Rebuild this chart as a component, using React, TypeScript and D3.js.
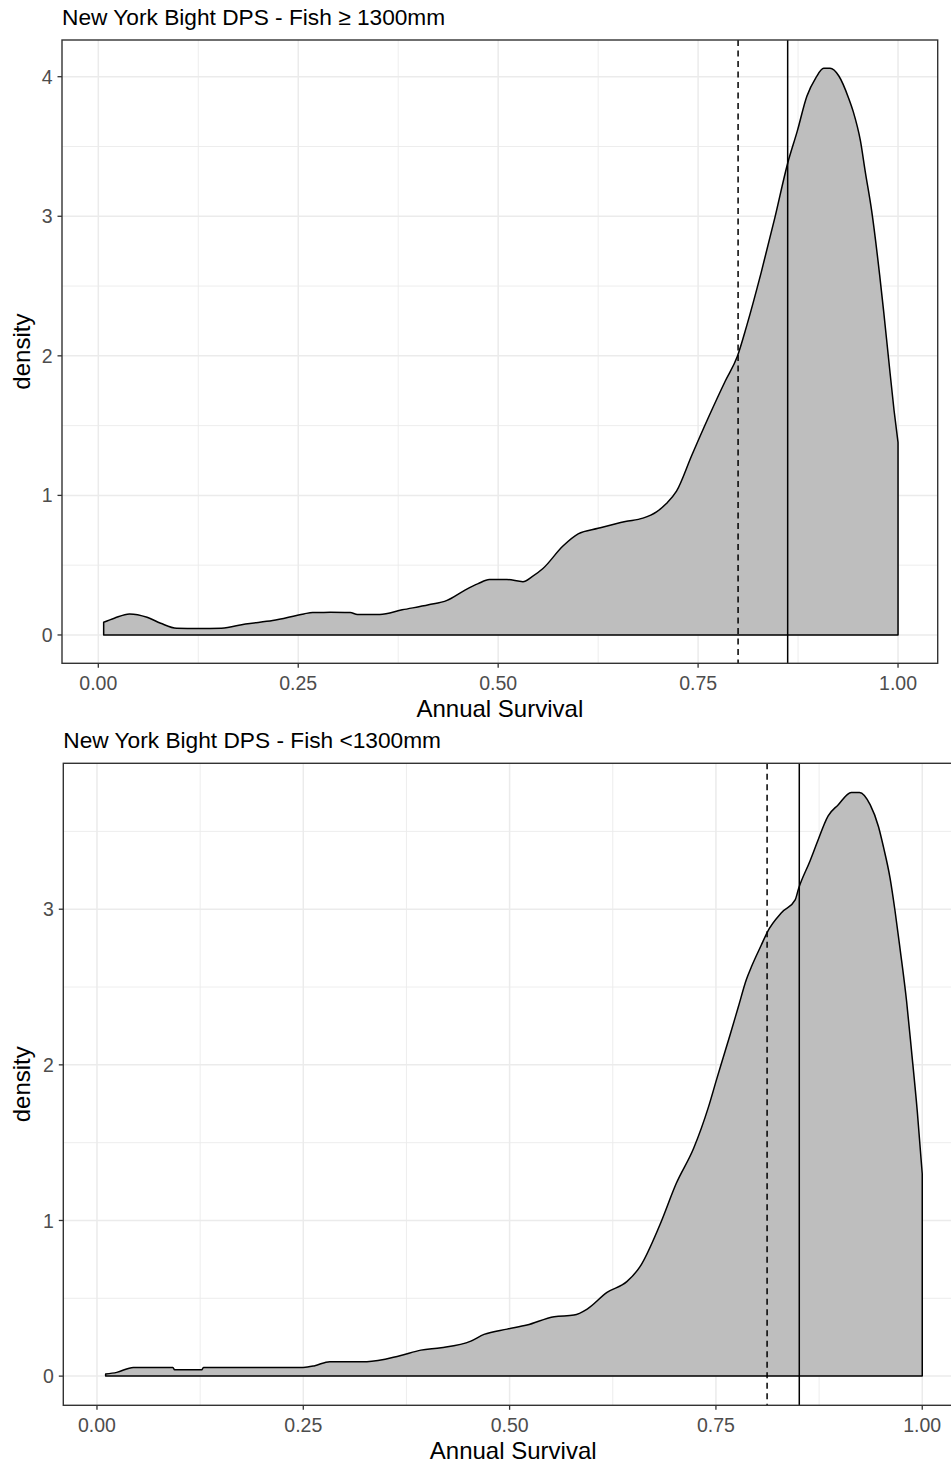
import React from "react";
import * as d3 from "d3";

// ---- Data ----
const topSurvival = [
  0.0067, 0.02, 0.039, 0.061, 0.078, 0.098, 0.125, 0.154, 0.184, 0.218, 0.257, 0.268, 0.29, 0.315,
  0.324, 0.352, 0.38, 0.413, 0.436, 0.458, 0.475, 0.489, 0.511, 0.531, 0.542, 0.556, 0.581, 0.6,
  0.625, 0.659, 0.681, 0.698, 0.71, 0.723, 0.742, 0.763, 0.784, 0.799, 0.811, 0.829, 0.846,
  0.862, 0.874, 0.886, 0.897, 0.907, 0.915, 0.926, 0.938, 0.944, 0.953, 0.959, 0.967, 0.977, 0.982,
  0.988, 0.995, 1.0,
];
const topDensity = [
  0.091, 0.12, 0.151, 0.127, 0.084, 0.048, 0.046, 0.048, 0.079, 0.103, 0.151, 0.161, 0.162, 0.161,
  0.147, 0.147, 0.18, 0.216, 0.248, 0.32, 0.368, 0.397, 0.397, 0.382, 0.416, 0.476, 0.637, 0.724,
  0.764, 0.813, 0.837, 0.882, 0.94, 1.03, 1.286, 1.56, 1.82, 1.995, 2.22, 2.6, 2.99,
  3.38, 3.61, 3.86, 3.99, 4.06, 4.06, 4.005, 3.85, 3.75, 3.54, 3.32, 3.04, 2.58, 2.32,
  1.99, 1.61, 1.38,
];

const bottomSurvival = [
  0.0105, 0.024, 0.044, 0.092, 0.094, 0.127, 0.129, 0.25, 0.264, 0.282, 0.327, 0.367, 0.3925, 0.417,
  0.453, 0.469, 0.497, 0.521, 0.554, 0.578, 0.594, 0.618, 0.642, 0.658, 0.682, 0.702, 0.723, 0.741,
  0.751, 0.759, 0.767, 0.777, 0.787, 0.793, 0.805, 0.812, 0.83, 0.846, 0.85, 0.864, 0.872, 0.886,
  0.898, 0.914, 0.924, 0.937, 0.947, 0.953, 0.961, 0.967, 0.973, 0.981, 0.987, 0.994, 1.0,
];
const bottomDensity = [
  0.013, 0.024, 0.056, 0.056, 0.041, 0.041, 0.056, 0.056, 0.067, 0.093, 0.093, 0.131, 0.167, 0.182,
  0.225, 0.268, 0.302, 0.328, 0.382, 0.392, 0.431, 0.538, 0.607, 0.703, 0.971, 1.239, 1.464, 1.73,
  1.91, 2.05, 2.19, 2.37, 2.55, 2.63, 2.77, 2.85, 2.98, 3.06, 3.13, 3.31, 3.42, 3.6,
  3.67, 3.75, 3.75, 3.67, 3.53, 3.4, 3.2, 2.99, 2.75, 2.41, 2.09, 1.7, 1.3,
];

// reference lines: [dashed, solid]
const topRefLines = [0.8, 0.862];
const bottomRefLines = [0.812, 0.851];

const xTicks = [0, 0.25, 0.5, 0.75, 1];
const xTickLabels = ["0.00", "0.25", "0.50", "0.75", "1.00"];
const topYTicks = [0, 1, 2, 3, 4];
const bottomYTicks = [0, 1, 2, 3];

const topTitle = "New York Bight DPS - Fish \u2265 1300mm";
const bottomTitle = "New York Bight DPS - Fish <1300mm";
const xTitle = "Annual Survival";
const yTitle = "density";

const FONT = "'Liberation Sans', Arial, Helvetica, sans-serif";

type PanelProps = {
  left: number;
  right: number;
  top: number;
  bottom: number;
  xDomain: [number, number];
  xs: number[];
  ds: number[];
  yTicks: number[];
  refLines: number[];
  title: string;
};

function Panel({ left, right, top, bottom, xDomain, xs, ds, yTicks, refLines, title }: PanelProps) {
  const ymax = d3.max(ds) as number;
  const x = d3.scaleLinear().domain(xDomain).range([left, right]);
  const y = d3.scaleLinear().domain([-0.05 * ymax, 1.05 * ymax]).range([bottom, top]);

  const pts = xs.map((v, i) => [v, ds[i]] as [number, number]);
  const area = d3
    .area<[number, number]>()
    .x((d) => x(d[0]))
    .y0(y(0))
    .y1((d) => y(d[1]))
    .curve(d3.curveMonotoneX);

  const [yd0, yd1] = y.domain();
  const xMinor = xTicks
    .slice(0, -1)
    .map((t, i) => (t + xTicks[i + 1]) / 2)
    .concat([1.125])
    .filter((v) => v >= xDomain[0] && v <= xDomain[1]);
  const yMinor = yTicks
    .map((t) => t + 0.5)
    .concat([-0.5])
    .filter((v) => v >= yd0 && v <= yd1);

  const gridColor = "#EBEBEB";
  const cx = (left + right) / 2;
  const cy = (top + bottom) / 2;

  return (
    <g>
      {xMinor.map((v) => (
        <line key={"xm" + v} x1={x(v)} x2={x(v)} y1={top} y2={bottom} stroke={gridColor} strokeWidth={0.9} />
      ))}
      {yMinor.map((v) => (
        <line key={"ym" + v} x1={left} x2={right} y1={y(v)} y2={y(v)} stroke={gridColor} strokeWidth={0.9} />
      ))}
      {xTicks.map((v) => (
        <line key={"xg" + v} x1={x(v)} x2={x(v)} y1={top} y2={bottom} stroke={gridColor} strokeWidth={1.5} />
      ))}
      {yTicks.map((v) => (
        <line key={"yg" + v} x1={left} x2={right} y1={y(v)} y2={y(v)} stroke={gridColor} strokeWidth={1.5} />
      ))}
      <path d={area(pts) || ""} fill="#BEBEBE" stroke="#000" strokeWidth={1.5} strokeLinejoin="round" />
      <line x1={x(refLines[0])} x2={x(refLines[0])} y1={top} y2={bottom} stroke="#000" strokeWidth={1.5} strokeDasharray="6,4.5" />
      <line x1={x(refLines[1])} x2={x(refLines[1])} y1={top} y2={bottom} stroke="#000" strokeWidth={1.5} />
      <rect x={left} y={top} width={right - left} height={bottom - top} fill="none" stroke="#333333" strokeWidth={1.4} />
      {yTicks.map((v) => (
        <g key={"yt" + v}>
          <line x1={left - 4.5} x2={left} y1={y(v)} y2={y(v)} stroke="#333333" strokeWidth={1.3} />
          <text x={left - 9.5} y={y(v)} dy="0.36em" textAnchor="end" fontSize={19.5} fill="#4D4D4D" fontFamily={FONT}>
            {String(v)}
          </text>
        </g>
      ))}
      {xTicks.map((v, i) => (
        <g key={"xt" + v}>
          <line x1={x(v)} x2={x(v)} y1={bottom} y2={bottom + 4.5} stroke="#333333" strokeWidth={1.3} />
          <text x={x(v)} y={bottom + 27} textAnchor="middle" fontSize={19.5} fill="#4D4D4D" fontFamily={FONT}>
            {xTickLabels[i]}
          </text>
        </g>
      ))}
      <text x={cx} y={bottom + 53.5} textAnchor="middle" fontSize={24} fill="#000" fontFamily={FONT}>
        {xTitle}
      </text>
      <text transform={`translate(30,${cy}) rotate(-90)`} textAnchor="middle" fontSize={24} fill="#000" fontFamily={FONT}>
        {yTitle}
      </text>
      <text x={left} y={top - 15.3} fontSize={22.7} fill="#000" fontFamily={FONT}>
        {title}
      </text>
    </g>
  );
}

export default function App() {
  return (
    <svg
      width={951}
      height={1466}
      style={{ position: "absolute", left: 0, top: 0, background: "#fff" }}
      xmlns="http://www.w3.org/2000/svg"
    >
      <rect x={0} y={0} width={951} height={1466} fill="#fff" />
      <Panel
        left={62}
        right={937.7}
        top={40}
        bottom={663.3}
        xDomain={[-0.0454, 1.0496]}
        xs={topSurvival}
        ds={topDensity}
        yTicks={topYTicks}
        refLines={topRefLines}
        title={topTitle}
      />
      <Panel
        left={63.3}
        right={963.1}
        top={763.3}
        bottom={1405.3}
        xDomain={[-0.0408, 1.0495]}
        xs={bottomSurvival}
        ds={bottomDensity}
        yTicks={bottomYTicks}
        refLines={bottomRefLines}
        title={bottomTitle}
      />
    </svg>
  );
}
